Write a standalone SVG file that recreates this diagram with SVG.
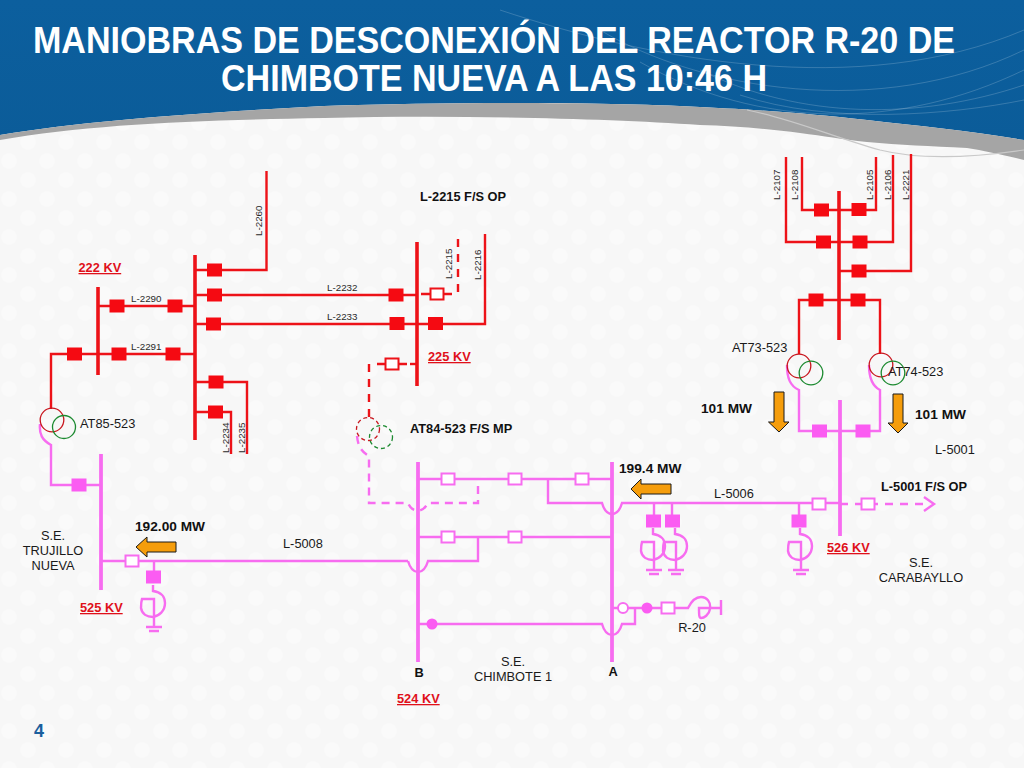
<svg xmlns="http://www.w3.org/2000/svg" width="1024" height="768" viewBox="0 0 1024 768">
<style>
text{font-family:"Liberation Sans",Arial,sans-serif;fill:#1a1a1a}
.t{font-size:12.8px}
.s{font-size:9.8px;fill:#2a2a2a}
.b{font-size:12.8px;font-weight:bold;fill:#111}
.mw{font-size:13.700px;font-weight:bold;fill:#111}
.kv{font-size:12.800px;font-weight:bold;fill:#e0101a;text-decoration:underline}
.title{font-size:36px;font-weight:bold;fill:#fff;text-anchor:middle}
.mid{text-anchor:middle}
.r,.rb,.rd,.p,.pb,.pd{fill:none}
.r{stroke:#ed1218;stroke-width:2.4}
.rb{stroke:#ed1218;stroke-width:3.6}
.rd{stroke:#ed1218;stroke-width:2.4;stroke-dasharray:8 7}
.p{stroke:#f76cf0;stroke-width:2.4}
.pb{stroke:#f76cf0;stroke-width:3.8}
.pd{stroke:#f76cf0;stroke-width:2.4;stroke-dasharray:8 7}
.fr{fill:#f50a12}
.fp{fill:#fb5cf2}
.hr{fill:#fff;stroke:#ed1218;stroke-width:2}
.hp{fill:#fff;stroke:#f76cf0;stroke-width:2}
.cr{fill:none;stroke:#c8161e;stroke-width:1.3}
.cg{fill:none;stroke:#1c8a30;stroke-width:1.3}
.arrow{fill:#f59d0c;stroke:#1a1a1a;stroke-width:1}
.wave{fill:none;stroke:#fff;stroke-opacity:.18;stroke-width:1}
</style>
<defs>
<linearGradient id="blue" x1="0" y1="0" x2="0" y2="1"><stop offset="0" stop-color="#0c5f9e"/><stop offset="1" stop-color="#0b5c99"/></linearGradient>
<pattern id="dots" width="38" height="38" patternUnits="userSpaceOnUse"><rect width="38" height="38" fill="#f7f7f7"/><circle cx="9" cy="9" r="8" fill="#fafafa"/><circle cx="28" cy="28" r="8" fill="#fafafa"/></pattern>
<rect id="sq" x="-7.500" y="-6.500" width="15" height="13"/>
<rect id="hs" x="-6.500" y="-5.500" width="13" height="11"/>
<g id="react" class="p"><path d="M-1 -14V-8C7 -7 11 -2 11 4C11 12 5 17-1 18C-7 18-12 15-13 9C-13 6-13 3-12 0H0V28M-8 28H8M-5 32H5"/></g>
</defs>
<rect width="1024" height="768" fill="url(#dots)"/>
<g id="header">
<path d="M0 0H1024V140C970 131 920 126 867 120C810 114 780 111 700 107C600 102 450 102 324 106C200 113 90 120 0 135Z" fill="url(#blue)"/>
<path d="M0 135C90 120 200 113 324 106C450 102 600 102 700 107C780 111 810 114 867 120C920 126 970 131 1024 140V160C1000 154 985 151 967 148C930 146 900 145 867 142C840 139 825 136 800 133C770 129 735 126 700 125C600 118 450 115 324 118C200 120 90 124 0 140Z" fill="#a5a5a5"/>
<path d="M747 110C790 118 830 136 880 150C920 160 970 158 1024 150" fill="none" stroke="#c9c9c9" stroke-width="1.2"/>
<path class="wave" d="M640 62C760 130 900 130 1024 70M700 70C800 120 920 120 1024 85M740 95C830 125 950 115 1024 100M600 30C700 90 880 120 1024 50M500 10C650 60 860 100 1024 30"/>
</g>
<text class="title" x="494" y="53" textLength="922" lengthAdjust="spacingAndGlyphs">MANIOBRAS DE DESCONEXIÓN DEL REACTOR R-20 DE</text>
<text class="title" x="494" y="91" textLength="546" lengthAdjust="spacingAndGlyphs">CHIMBOTE NUEVA A LAS 10:46 H</text>

<g id="connectors">
<path class="r" d="M98 306H195M51 409V354H195M195 270H266.5V171M195 295H417M195 324H417H485V234M195 382H247V454M195 412H231V454"/>
<path class="r" d="M421 294H452M377 364H407"/>
<path class="rd" d="M458 239V294M369 364V418"/>
<path class="rd" style="stroke-dasharray:7 5" d="M410 364H417"/>
<path class="r" d="M802 157V210H876V157M786 157V242H893V155M839 271H911V154M799 354V300H880V354"/>
<path class="p" d="M40 424C39 434 42 440 51 445V485H101M101 561H408"/>
<path class="p" d="M787 365C787 378 790 386 799 390V431H880V390C872 386 869 378 869 365"/>
<path class="p" d="M418 479H612M548 479V503H602C604 510 608 514 612 514C616 514 620 510 622 503H840"/>
<path class="p" d="M418 537H612M478 537V561H428C426 568 422 572 418 572C414 572 410 568 408 561"/>
<path class="pd" d="M357 436C358 447 362 452 369 456V503H408C410 508 413 510 418 511C423 510 425 508 428 503H478V479" style="stroke-dasharray:8 6"/>
<path class="p" d="M612 608H688C691 602 695 597 701 597C707 597 711 602 710 609C709 615 704 618 701 618C699 618 699 614 699 608H721M635 608V624H622C620 631 616 635 612 635C608 635 604 631 602 624H418"/>
<path class="p" d="M654 504V521M672 504V521M799 504V521M154 561V577"/>
<path class="pd" d="M840 504H928"/>
<path class="p" d="M924 497L934 504L924 511"/>
<path class="p" d="M721 600V615"/>
</g>

<g id="buses">
<path class="rb" d="M98 287V375"/>
<path class="rb" d="M195 255V440"/>
<path class="rb" d="M417 242V386"/>
<path class="rb" d="M839 191V340"/>
<path class="pb" d="M101 454V590"/>
<path class="pb" d="M418 462V662"/>
<path class="pb" d="M612 462V662"/>
<path class="pb" d="M840 400V536"/>
</g>

<g id="breakers-red" class="fr">
<use href="#sq" x="74.500" y="354"/><use href="#sq" x="117" y="306"/><use href="#sq" x="175" y="306"/><use href="#sq" x="119" y="354"/><use href="#sq" x="173" y="354"/>
<use href="#sq" x="214.500" y="270"/><use href="#sq" x="214.500" y="295"/><use href="#sq" x="213.500" y="324"/><use href="#sq" x="216" y="382"/><use href="#sq" x="215.500" y="412"/>
<use href="#sq" x="396" y="295"/><use href="#sq" x="397" y="323.500"/><use href="#sq" x="435.500" y="323.500"/>
<use href="#sq" x="821.500" y="210"/><use href="#sq" x="859" y="209.500"/><use href="#sq" x="823.500" y="242"/><use href="#sq" x="860" y="242"/><use href="#sq" x="859" y="271"/><use href="#sq" x="816" y="300"/><use href="#sq" x="858" y="300"/>
</g>
<g id="breakers-red-open" class="hr">
<use href="#hs" x="437" y="294"/><use href="#hs" x="392" y="364"/>
</g>
<g id="breakers-mag" class="fp">
<use href="#sq" x="79" y="485"/><use href="#sq" x="153.500" y="577"/><use href="#sq" x="653.500" y="521"/><use href="#sq" x="672.500" y="521"/><use href="#sq" x="799" y="521"/><use href="#sq" x="819.500" y="431"/><use href="#sq" x="863" y="431"/>
</g>
<g id="breakers-mag-open" class="hp">
<use href="#hs" x="132" y="561"/><use href="#hs" x="448" y="479"/><use href="#hs" x="515" y="479"/><use href="#hs" x="582" y="479"/><use href="#hs" x="448" y="537"/><use href="#hs" x="515" y="537"/><use href="#hs" x="819" y="504"/><use href="#hs" x="868" y="504"/><use href="#hs" x="668" y="608"/>
<circle cx="623" cy="608" r="5"/>
</g>
<g id="closed-points" class="fp"><circle cx="647" cy="608" r="5.500"/><circle cx="432" cy="624" r="5.500"/></g>

<g id="transformers">
<g id="AT85-523"><circle class="cr" cx="52" cy="420" r="11.800"/><circle class="cg" cx="64" cy="427" r="11.500"/></g>
<g id="AT84-523"><circle class="cr" cx="368" cy="429" r="11.500" stroke-dasharray="4 3"/><circle class="cg" cx="381" cy="437" r="11.500" stroke-dasharray="4 3"/></g>
<g id="AT73-523"><circle class="cr" cx="799" cy="366" r="11.800"/><circle class="cg" cx="811" cy="373" r="11.800"/></g>
<g id="AT74-523"><circle class="cr" cx="881" cy="365" r="11.800"/><circle class="cg" cx="893" cy="373" r="11.800"/></g>
</g>

<g id="reactors">
<use href="#react" x="154" y="599"/>
<use href="#react" x="654" y="542"/>
<use href="#react" x="676" y="542"/>
<use href="#react" x="801" y="542"/>
</g>

<g id="flow-arrows" class="arrow">
<path d="M136 547L147 537V542H176V552H147V557Z"/>
<path d="M631 489L641 479V484H671V494H641V499Z"/>
<path d="M774 392H784V422H789L779 432L768.500 422H774Z"/>
<path d="M893 394H903V423H908L898 433L888 423H893Z"/>
</g>

<g id="labels">
<text class="kv" x="78.500" y="272">222 KV</text>
<text class="s" x="131" y="302">L-2290</text>
<text class="s" x="131" y="349.500">L-2291</text>
<text class="s" x="327" y="291">L-2232</text>
<text class="s" x="327" y="320">L-2233</text>
<text class="s" transform="translate(262 236) rotate(-90)">L-2260</text>
<text class="s" transform="translate(229 453) rotate(-90)">L-2234</text>
<text class="s" transform="translate(245 453) rotate(-90)">L-2235</text>
<text class="s" transform="translate(452 279) rotate(-90)">L-2215</text>
<text class="s" transform="translate(481 280) rotate(-90)">L-2216</text>
<text class="s" transform="translate(780 200) rotate(-90)">L-2107</text>
<text class="s" transform="translate(798 200) rotate(-90)">L-2108</text>
<text class="s" transform="translate(873 200) rotate(-90)">L-2105</text>
<text class="s" transform="translate(891 200) rotate(-90)">L-2106</text>
<text class="s" transform="translate(909 200) rotate(-90)">L-2221</text>
<text class="b" x="420" y="201">L-2215 F/S OP</text>
<text class="kv" x="428" y="361">225 KV</text>
<text class="b" x="410" y="433">AT84-523 F/S MP</text>
<text class="t" x="80" y="428">AT85-523</text>
<text class="t" x="732" y="352">AT73-523</text>
<text class="t" x="888" y="376">AT74-523</text>
<text class="mw" x="701" y="413">101 MW</text>
<text class="mw" x="915" y="419">101 MW</text>
<text class="t" x="935" y="454">L-5001</text>
<text class="b" x="881" y="491">L-5001 F/S OP</text>
<text class="mw" x="619" y="473">199.4 MW</text>
<text class="t" x="714" y="498">L-5006</text>
<text class="t" x="283" y="548">L-5008</text>
<text class="kv" x="827" y="552">526 KV</text>
<text class="t mid" x="921" y="567">S.E.</text>
<text class="t mid" x="921" y="582">CARABAYLLO</text>
<text class="t mid" x="692" y="632">R-20</text>
<text class="t mid" x="513" y="666">S.E.</text>
<text class="t mid" x="513" y="681">CHIMBOTE 1</text>
<text class="b mid" x="419" y="677">B</text>
<text class="b mid" x="613" y="676">A</text>
<text class="kv" x="397" y="703">524 KV</text>
<text class="kv" x="80" y="612">525 KV</text>
<text class="t mid" x="53" y="540">S.E.</text>
<text class="t mid" x="53" y="555">TRUJILLO</text>
<text class="t mid" x="53" y="570">NUEVA</text>
<text class="mw" x="135" y="531">192.00 MW</text>
<text x="34" y="737" style="font-size:18px;font-weight:bold;fill:#1b5f9e">4</text>
</g>
</svg>
